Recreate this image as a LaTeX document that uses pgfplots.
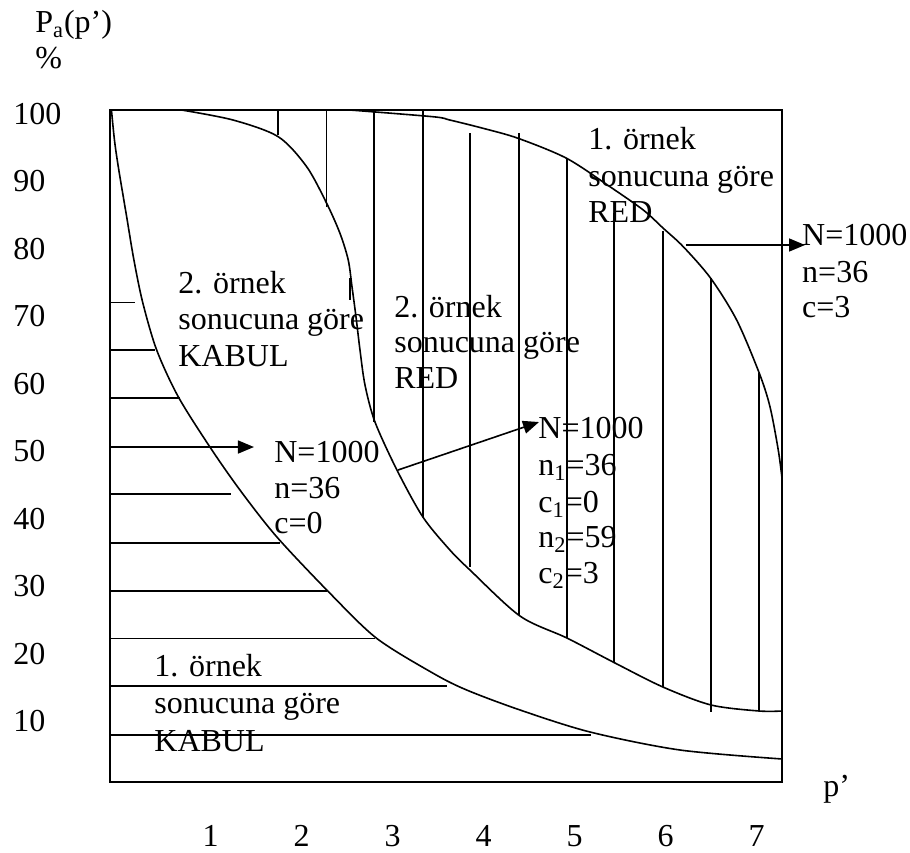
\documentclass[border=0pt]{standalone}
\usepackage{pgfplots}
\pgfplotsset{compat=1.18}
\usetikzlibrary{arrows.meta}
\usepackage{fontspec}
\setmainfont{Liberation Serif}

\begin{document}
\begin{tikzpicture}[font=\fontsize{16pt}{18pt}\selectfont]
\path[use as bounding box] (-55pt,-35pt) rectangle (400pt,391pt);
\begin{axis}[
  at={(0pt,0pt)}, anchor=south west,
  scale only axis, width=336pt, height=336pt,
  xmin=-0.105, xmax=7.279, ymin=1, ymax=100.56,
  clip=false,
  axis line style={line width=0.8pt},
  tick style={draw=none},
  xtick={1,...,7}, ytick={10,20,...,100},
  /pgf/number format/assume math mode=true,
  tick label style={font=\fontsize{16pt}{18pt}\selectfont, inner sep=0pt},
  xticklabel style={anchor=north, yshift=-21.5pt},
  yticklabel style={anchor=west, xshift=-48.5pt},
  cycle list={{black,solid,mark=none}},
  no markers,
  every axis plot/.append style={line width=0.8pt, black},
  tri/.style={-{Triangle[length=8pt,width=6.5pt]}},
]

% OC curve, single sampling n=36, c=0
\addplot[smooth] coordinates {
  (-0.089,100.56) (-0.056,96.11) (-0.014,92.16) (0.078,84.75) (0.158,78.33)
  (0.254,72.07) (0.408,65.0) (0.645,58.08) (0.993,50.63) (1.323,44.26)
  (1.726,37.34) (2.312,28.96) (2.825,22.29) (3.447,17.10) (3.814,14.63)
  (4.400,11.67) (5.169,8.41) (6.158,5.74) (7.279,4.41)};

% OC curve, double sampling n1=36, c1=0, n2=59, c2=3
\addplot[smooth] coordinates {
  (0.682,100.56) (1.249,99.07) (1.744,96.60) (2.056,92.16) (2.276,86.73)
  (2.422,82.29) (2.513,78.33) (2.554,74.38) (2.598,69.93) (2.642,65.0)
  (2.697,59.81) (2.807,54.33) (3.048,47.22) (3.333,40.26) (3.630,35.37)
  (3.850,32.41) (4.400,25.59) (4.916,22.33) (5.444,18.63) (5.971,15.07)
  (6.499,12.41) (7.026,11.52) (7.279,11.52)};

% OC curve, single sampling n=36, c=3
\addplot[smooth] coordinates {
  (2.532,100.56) (3.447,99.56) (3.631,99.07) (3.997,97.84) (4.381,96.36)
  (4.913,93.40) (5.389,89.19) (5.755,85.74) (5.975,83.03) (6.195,80.30)
  (6.496,75.62) (6.781,69.44) (7.030,61.55) (7.147,56.60) (7.238,50.19)
  (7.279,46.04)};

% horizontal hatching: accept region
\addplot[] coordinates {(-0.105,72.07) (0.169,72.07)};
\addplot[] coordinates {(-0.105,65.0) (0.389,65.0)};
\addplot[] coordinates {(-0.105,57.93) (0.664,57.93)};
\addplot[] coordinates {(-0.105,43.67) (1.224,43.67)};
\addplot[] coordinates {(-0.105,36.45) (1.763,36.45)};
\addplot[] coordinates {(-0.105,29.34) (2.276,29.34)};
\addplot[] coordinates {(-0.105,22.29) (2.807,22.29)};
\addplot[] coordinates {(-0.105,15.22) (3.595,15.22)};
\addplot[] coordinates {(-0.105,7.96) (5.180,7.96)};

% vertical hatching: reject region
\addplot[] coordinates {(1.744,100.56) (1.744,96.85)};
\addplot[] coordinates {(2.276,100.56) (2.276,86.19)};
\addplot[] coordinates {(2.532,75.67) (2.532,72.41)};
\addplot[] coordinates {(2.796,100.56) (2.796,54.33)};
\addplot[] coordinates {(3.334,100.56) (3.334,40.26)};
\addplot[] coordinates {(3.850,97.15) (3.850,32.85)};
\addplot[] coordinates {(4.389,97.15) (4.389,25.74)};
\addplot[] coordinates {(4.916,93.44) (4.916,22.33)};
\addplot[] coordinates {(5.433,85.37) (5.433,18.63)};
\addplot[] coordinates {(5.971,82.70) (5.971,15.07)};
\addplot[] coordinates {(6.499,75.67) (6.499,11.37)};
\addplot[] coordinates {(7.026,61.59) (7.026,11.52)};

% pointer arrows to the plan parameters
\addplot[tri] coordinates {(-0.105,50.63) (1.477,50.63)};
\addplot[tri] coordinates {(3.059,47.22) (4.609,54.33)};
\addplot[tri] coordinates {(6.224,80.56) (7.532,80.56)};

\tikzset{every node/.style={anchor=base west, inner sep=0pt}}
% axis captions
\node at (axis cs:-0.930,112.11) {P\textsubscript{a}(p’)};
\node at (axis cs:-0.930,106.78) {\%};
\node at (axis cs:7.730,-1.074) {p’};

% region labels
\node at (axis cs:5.147,94.78) {1. örnek};
\node at (axis cs:5.147,89.30) {sonucuna göre};
\node at (axis cs:5.147,83.96) {RED};

\node at (axis cs:0.642,73.44) {2. örnek};
\node at (axis cs:0.642,68.04) {sonucuna göre};
\node at (axis cs:0.642,62.63) {KABUL};

\node at (axis cs:3.015,69.89) {2. örnek};
\node at (axis cs:3.015,64.63) {sonucuna göre};
\node at (axis cs:3.015,59.37) {RED};

\node at (axis cs:0.379,16.56) {1. örnek};
\node at (axis cs:0.379,11.22) {sonucuna göre};
\node at (axis cs:0.379,5.59) {KABUL};

% sampling plan parameters
\node at (axis cs:7.497,80.56) {N=1000};
\node at (axis cs:7.497,75.07) {n=36};
\node at (axis cs:7.497,69.89) {c=3};

\node at (axis cs:1.697,48.41) {N=1000};
\node at (axis cs:1.697,43.07) {n=36};
\node at (axis cs:1.697,37.89) {c=0};

\node at (axis cs:4.598,51.96) {N=1000};
\node at (axis cs:4.598,46.48) {n\textsubscript{1}=36};
\node at (axis cs:4.598,41.00) {c\textsubscript{1}=0};
\node at (axis cs:4.598,35.81) {n\textsubscript{2}=59};
\node at (axis cs:4.598,30.48) {c\textsubscript{2}=3};
\end{axis}
\end{tikzpicture}
\end{document}
